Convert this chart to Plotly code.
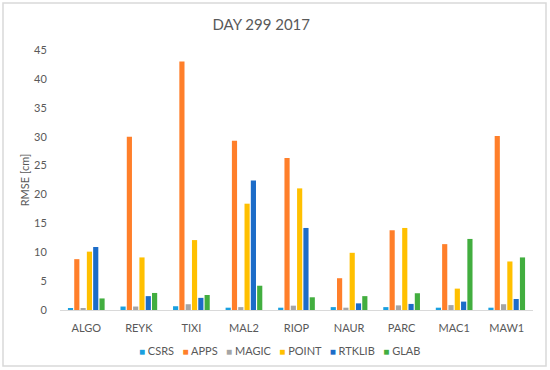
import plotly.graph_objects as go

stations = ["ALGO", "REYK", "TIXI", "MAL2", "RIOP", "NAUR", "PARC", "MAC1", "MAW1"]
csrs   = [0.25, 0.6, 0.65, 0.4, 0.4, 0.5, 0.5, 0.4, 0.4]
apps   = [8.8, 30.0, 43.0, 29.3, 26.3, 5.5, 13.8, 11.4, 30.1]
magic  = [0.3, 0.6, 1.0, 0.5, 0.75, 0.4, 0.8, 0.85, 1.0]
point  = [10.1, 9.1, 12.1, 18.4, 21.05, 9.9, 14.2, 3.7, 8.4]
rtklib = [10.9, 2.4, 2.1, 22.4, 14.2, 1.15, 1.05, 1.45, 1.9]
glab   = [2.0, 2.95, 2.6, 4.2, 2.2, 2.4, 2.9, 12.3, 9.1]

series = [("CSRS", csrs, "#1AA0E0"), ("APPS", apps, "#FF7F2A"), ("MAGIC", magic, "#A5A5A5"),
          ("POINT", point, "#FFC000"), ("RTKLIB", rtklib, "#1C6CC8"), ("GLAB", glab, "#42AE3F")]

fig = go.Figure()
for name, vals, col in series:
    fig.add_trace(go.Bar(name=name, x=stations, y=vals, marker_color=col,
                         marker_line_width=0, showlegend=False))

# legend drawn as a single centered text line (Excel-style compact legend)
legend_text = "&nbsp;&nbsp;&nbsp;".join(
    f"<span style='color:{col};font-size:10px'>■</span>&nbsp;{name}" for name, _, col in series)

font_fam = "Lato, 'Open Sans', sans-serif"
fig.update_layout(
    width=550, height=370,
    paper_bgcolor="white", plot_bgcolor="white",
    margin=dict(l=60, r=17, t=50, b=60, autoexpand=False),
    barmode="group", bargap=0.28, bargroupgap=0.18,
    showlegend=False,
    title=dict(text="DAY 299 2017", x=0.475, xanchor="center", y=1 - 25 / 370, yanchor="middle",
               font=dict(family=font_fam, size=15, color="#595959")),
    font=dict(family=font_fam, size=11, color="#595959"),
    xaxis=dict(showline=True, linecolor="#D9D9D9", linewidth=1, showgrid=False,
               ticks="outside", ticklen=8, tickcolor="rgba(0,0,0,0)",
               tickfont=dict(size=11, color="#595959")),
    yaxis=dict(range=[0, 45], dtick=5, showgrid=False, zeroline=False, showline=False,
               tickfont=dict(size=11, color="#595959"), ticklen=10, ticks="outside",
               tickcolor="rgba(0,0,0,0)",
               title=dict(text="RMSE [cm]", font=dict(size=11, color="#595959"), standoff=2)),
    annotations=[dict(text=legend_text, xref="paper", yref="paper", x=0.465, y=-0.155,
                      xanchor="center", yanchor="middle", showarrow=False,
                      font=dict(family=font_fam, size=11, color="#595959"))],
    shapes=[dict(type="rect", xref="paper", yref="paper", x0=-0.1205, x1=1.0275, y0=-0.215, y1=1.181,
                 line=dict(color="#D9D9D9", width=1.5), layer="below")],
)
fig.write_html("out.html", config={"displayModeBar": False},
               post_script="document.body.style.margin='0';")
